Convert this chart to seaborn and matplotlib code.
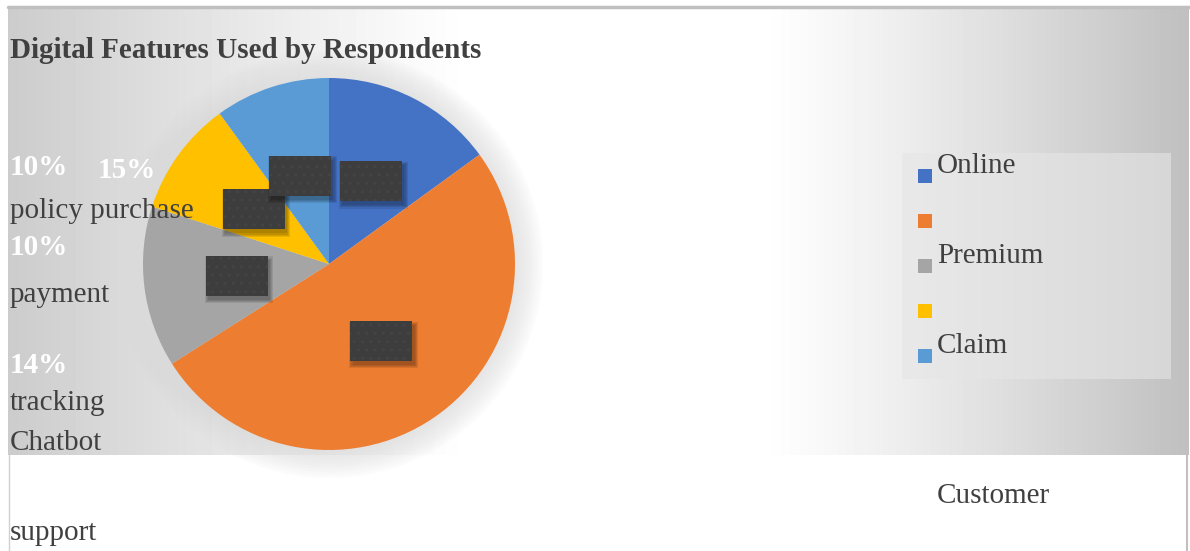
import numpy as np
import seaborn as sns
import matplotlib.pyplot as plt
from matplotlib.patches import Rectangle, Circle

sns.set_theme(style="white")
plt.rcParams['font.family'] = ['Liberation Serif', 'DejaVu Serif']
plt.rcParams['hatch.linewidth'] = 1.0

# data
title = "Digital Features Used by Respondents"
legend_labels = ["Online", "", "Premium", "", "Claim"]
shares = [15, 51, 14, 10, 10]
slice_colors = ["#4472C4", "#ED7D31", "#A5A5A5", "#FFC000", "#5B9BD5"]
pct_texts = ["10%", "15%", "10%", "14%"]
side_texts = ["policy purchase", "payment", "tracking", "Chatbot", "Customer", "support"]

W, H = 1190, 551
fig = plt.figure(figsize=(W / 100, H / 100), dpi=100)

# background (pixel coords, y down)
bg = fig.add_axes([0, 0, 1, 1])
xs = np.arange(8, 1189).astype(float)
ramp = np.ones_like(xs)
lft = xs < 470
ramp[lft] = 1 - 0.20 * ((470 - xs[lft]) / 462) ** 1.1
rgt = xs > 760
ramp[rgt] = 1 - 0.25 * ((xs[rgt] - 760) / 429) ** 1.15
grad = np.tile(ramp, (447, 1))
bg.imshow(grad, cmap='gray', vmin=0, vmax=1, extent=[8, 1189, 455, 8], aspect='auto')
bg.plot([8, W], [7, 7], color='#bfbfbf', lw=2.5)
bg.plot([9, 9], [455, H], color='#d0d0d0', lw=1)
bg.plot([1187, 1187], [455, H], color='#c0c0c0', lw=1.5)
bg.set_xlim(0, W)
bg.set_ylim(H, 0)
bg.axis('off')

# pie
R = 186
lim = 1.22
side = 2 * lim * R
cx, cy = 329, 264
pax = fig.add_axes([(cx - side / 2) / W, (H - cy - side / 2) / H, side / W, side / H])
pax.patch.set_alpha(0)
for r in np.linspace(1.15, 1.01, 10):
    pax.add_patch(Circle((0, 0), r, color='#dadada', alpha=0.09, lw=0))
wedges, _ = pax.pie(shares, colors=slice_colors, startangle=90, counterclock=False,
                    radius=1, wedgeprops=dict(linewidth=0))

# empty data-label boxes at half radius
bw, bh = 62 / R, 40 / R
for w in wedges:
    mid = np.deg2rad((w.theta1 + w.theta2) / 2)
    x, y = 0.5 * np.cos(mid), 0.5 * np.sin(mid)
    for k in range(4):
        g = 0.012 * k
        pax.add_patch(Rectangle((x - bw / 2 + 0.012 - g / 2, y - bh / 2 - 0.022 - g / 2),
                                bw + g, bh + g, color='black', alpha=0.09, lw=0))
    pax.add_patch(Rectangle((x - bw / 2, y - bh / 2), bw, bh, facecolor='#3d3d3d',
                            edgecolor='#444444', hatch='..', lw=0))
pax.set_xlim(-lim, lim)
pax.set_ylim(-lim, lim)
pax.axis('off')

# texts + legend on top
fg = fig.add_axes([0, 0, 1, 1], zorder=5)
fg.patch.set_alpha(0)
fg.set_xlim(0, W)
fg.set_ylim(H, 0)
fg.axis('off')

txt = dict(fontsize=21, color='#404040', va='baseline', ha='left')
fg.text(10, 58, title, fontweight='bold', **txt)

wtxt = dict(fontsize=21, color='white', fontweight='bold', va='baseline', ha='left')
for s, (x, y) in zip(pct_texts, [(10, 175), (98, 178), (10, 255), (10, 373)]):
    fg.text(x, y, s, **wtxt)
for s, (x, y) in zip(side_texts, [(10, 218), (10, 302), (10, 410), (10, 450), (937, 503), (10, 540)]):
    fg.text(x, y, s, **txt)

# legend
fg.add_patch(Rectangle((902, 153), 269, 226, facecolor='#e6e6e6', alpha=0.6, lw=0))
for i, (lab, col) in enumerate(zip(legend_labels, slice_colors)):
    top = 169 + 45 * i
    fg.add_patch(Rectangle((918, top), 14, 14, color=col, lw=0))
    fg.text(937, top + 4, lab, **txt)

fig.savefig("out.png", dpi=100)
